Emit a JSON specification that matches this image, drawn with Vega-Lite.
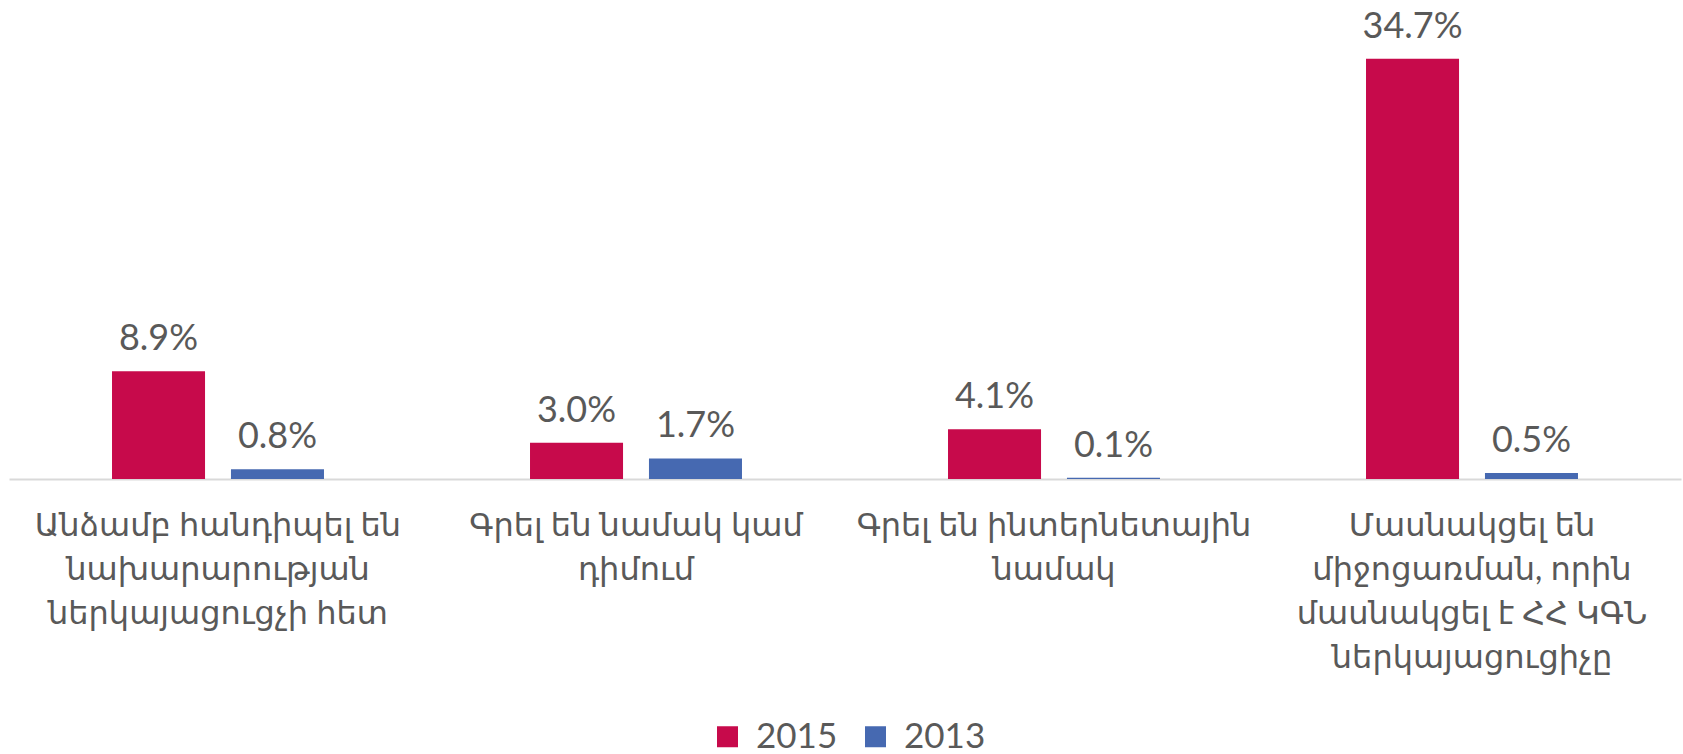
{
  "$schema": "https://vega.github.io/schema/vega-lite/v6.json",
  "autosize": {"type": "none"},
  "width": 1672,
  "height": 424,
  "padding": {"left": 9, "top": 55, "right": 2, "bottom": 275},
  "background": "white",
  "data": {
    "values": [
      {"category": "Անձամբ հանդիպել են\nնախարարության\nներկայացուցչի հետ", "year": "2015", "value": 0.089},
      {"category": "Անձամբ հանդիպել են\nնախարարության\nներկայացուցչի հետ", "year": "2013", "value": 0.008},
      {"category": "Գրել են նամակ կամ\nդիմում", "year": "2015", "value": 0.030},
      {"category": "Գրել են նամակ կամ\nդիմում", "year": "2013", "value": 0.017},
      {"category": "Գրել են ինտերնետային\nնամակ", "year": "2015", "value": 0.041},
      {"category": "Գրել են ինտերնետային\nնամակ", "year": "2013", "value": 0.001},
      {"category": "Մասնակցել են\nմիջոցառման, որին\nմասնակցել է ՀՀ ԿԳՆ\nներկայացուցիչը", "year": "2015", "value": 0.347},
      {"category": "Մասնակցել են\nմիջոցառման, որին\nմասնակցել է ՀՀ ԿԳՆ\nներկայացուցիչը", "year": "2013", "value": 0.005}
    ]
  },
  "encoding": {
    "x": {
      "field": "category",
      "type": "nominal",
      "sort": null,
      "title": null,
      "scale": {"paddingInner": 0, "paddingOuter": 0},
      "axis": {
        "labelAngle": 0,
        "labelExpr": "split(datum.label, '\\n')",
        "labelFont": "Lato, DejaVu Sans",
        "labelFontSize": 32,
        "labelLineHeight": 44,
        "labelColor": "#595959",
        "labelPadding": 31,
        "labelLimit": 0,
        "ticks": false,
        "domainColor": "#d9d9d9",
        "domainWidth": 2
      }
    },
    "xOffset": {
      "field": "year",
      "type": "nominal",
      "sort": ["2015", "2013"],
      "scale": {"paddingInner": 0.218, "paddingOuter": 0.866}
    },
    "y": {
      "field": "value",
      "type": "quantitative",
      "scale": {"domain": [0, 0.35]},
      "axis": null
    }
  },
  "layer": [
    {
      "mark": {"type": "bar"},
      "encoding": {
        "color": {
          "field": "year",
          "type": "nominal",
          "sort": ["2015", "2013"],
          "scale": {"domain": ["2015", "2013"], "range": ["#C70A4B", "#4669B1"]},
          "legend": {
            "title": null,
            "orient": "none",
            "legendX": 701,
            "legendY": 664,
            "direction": "horizontal",
            "symbolType": "square",
            "symbolSize": 441,
            "symbolStrokeWidth": 0,
            "labelFont": "Lato, DejaVu Sans",
            "labelFontSize": 35,
            "labelColor": "#595959",
            "labelOffset": 11,
            "columnPadding": 20
          }
        }
      }
    },
    {
      "mark": {
        "type": "text",
        "baseline": "alphabetic",
        "dy": -21,
        "font": "Lato, DejaVu Sans",
        "fontSize": 36,
        "color": "#595959"
      },
      "encoding": {
        "text": {"field": "value", "type": "quantitative", "format": ".1%"}
      }
    }
  ],
  "config": {
    "view": {"stroke": null}
  }
}
